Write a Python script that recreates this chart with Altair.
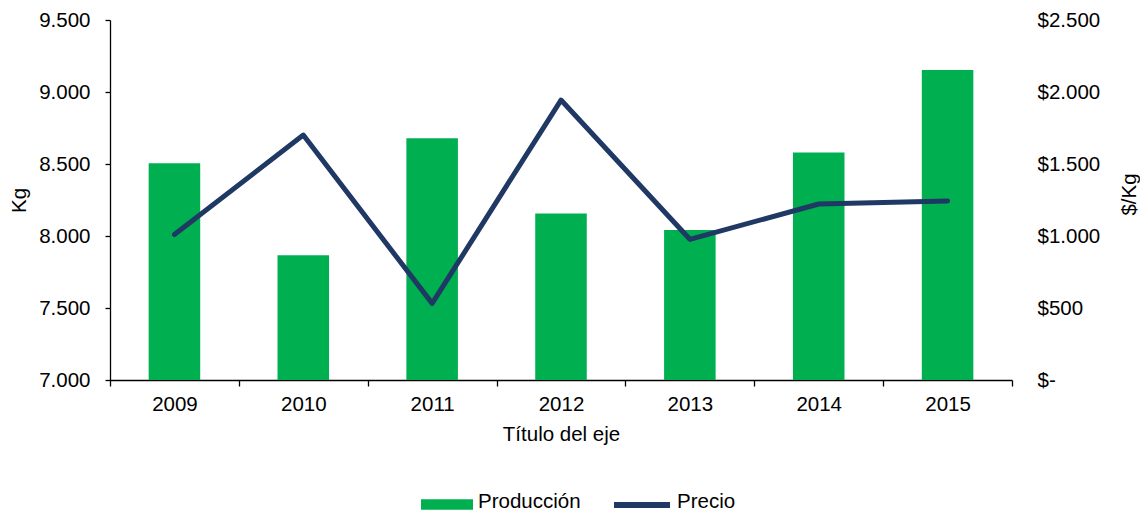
import altair as alt
import pandas as pd

years = ["2009", "2010", "2011", "2012", "2013", "2014", "2015"]
produccion = [8505, 7866, 8678, 8157, 8042, 8579, 9153]
precio = [1010, 1701, 532, 1944, 977, 1222, 1243]

df = pd.DataFrame({
    "year": years,
    "prod": produccion,
    "precio": precio,
    "s1": ["Producción"] * len(years),
    "s2": ["Precio"] * len(years),
})

FONT = "Liberation Sans"
FS = 20.5
GREEN = "#00B050"
NAVY = "#1F3864"

xenc = alt.X(
    "year:O",
    scale=alt.Scale(paddingInner=0, paddingOuter=0),
    axis=alt.Axis(
        title="Título del eje", labelAngle=0, tickBand="extent", tickSize=6,
        labelPadding=8, titlePadding=10, domainColor="#000000", tickColor="#000000",
        domainWidth=1.3, tickWidth=1.3,
    ),
)

bars = alt.Chart(df).mark_bar(width=alt.RelativeBandSize(0.4)).encode(
    x=xenc,
    y=alt.Y(
        "prod:Q",
        scale=alt.Scale(domain=[7000, 9500], nice=False, zero=False),
        axis=alt.Axis(
            title="Kg", values=[7000, 7500, 8000, 8500, 9000, 9500],
            labelExpr="replace(format(datum.value, ','), ',', '.')",
            tickSize=5, labelPadding=15,
            titleAngle=-90, titleBaseline="alphabetic", titleAlign="center",
            titleX=-85, titleY=180,
            domainColor="#000000", tickColor="#000000", domainWidth=1.3, tickWidth=1.3,
        ),
    ),
    y2=alt.datum(7000),
    fill=alt.Fill(
        "s1:N",
        scale=alt.Scale(domain=["Producción"], range=[GREEN]),
        legend=alt.Legend(
            title=None, orient="none", legendX=311, legendY=456,
            symbolType="M-1,-0.104L1,-0.104L1,0.296L-1,0.296Z", symbolSize=2704,
            symbolStrokeWidth=0, labelOffset=5, padding=0,
        ),
    ),
)

line = alt.Chart(df).mark_line(strokeWidth=5, strokeCap="round", strokeJoin="round").encode(
    x=alt.X("year:O"),
    y=alt.Y(
        "precio:Q",
        scale=alt.Scale(domain=[0, 2500], nice=False),
        axis=alt.Axis(
            orient="right", title="$/Kg", values=[0, 500, 1000, 1500, 2000, 2500],
            labelExpr="datum.value == 0 ? '$-' : '$' + replace(format(datum.value, ','), ',', '.')",
            domain=False, ticks=False, labelPadding=25,
            titleAngle=-90, titleBaseline="alphabetic", titleAlign="center",
            titleX=123, titleY=174,
        ),
    ),
    stroke=alt.Stroke(
        "s2:N",
        scale=alt.Scale(domain=["Precio"], range=[NAVY]),
        legend=alt.Legend(
            title=None, orient="none", legendX=501, legendY=450.5,
            symbolType="M-1,0.125L1,0.125", symbolSize=3136, symbolStrokeWidth=6,
            labelOffset=4, padding=0,
        ),
    ),
)

chart = alt.layer(bars, line).resolve_scale(
    y="independent", x="shared"
).properties(
    width=902, height=360,
    autosize=alt.AutoSizeParams(type="none"),
    padding={"left": 102, "top": 12, "right": 128, "bottom": 132},
).configure_view(
    stroke=None
).configure_axis(
    grid=False, labelFont=FONT, titleFont=FONT, labelFontSize=FS, titleFontSize=FS,
    labelColor="#000000", titleColor="#000000", titleFontWeight="normal",
).configure_legend(
    labelFont=FONT, labelFontSize=FS, labelColor="#000000",
)

chart.save("out.html", embed_options={"renderer": "svg", "actions": False})
